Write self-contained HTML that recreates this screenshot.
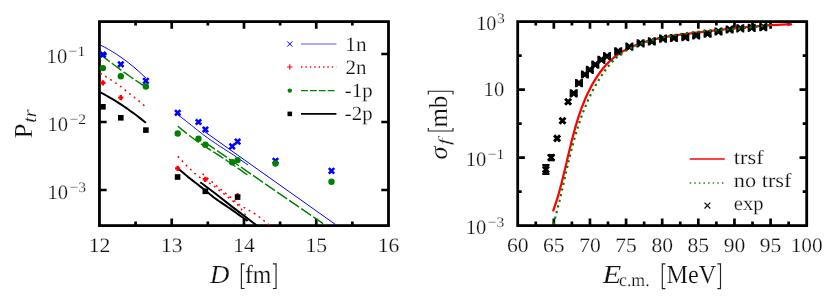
<!DOCTYPE html>
<html><head><meta charset="utf-8"><title>plots</title>
<style>
html,body{margin:0;padding:0;background:#fff;}
body{width:830px;height:297px;overflow:hidden;}
svg{display:block;}
text{font-family:"Liberation Serif",serif;fill:#111;stroke:#fff;stroke-width:0.2px;text-rendering:geometricPrecision;}
</style></head><body>
<svg width="830" height="297" viewBox="0 0 830 297">
<defs><clipPath id="c1"><rect x="99.45" y="21.6" width="289.05" height="204.0"/></clipPath></defs>
<rect width="830" height="297" fill="#fff"/>
<g opacity="0.999">
<rect x="99.45" y="21.6" width="289.05" height="204.0" fill="none" stroke="#000" stroke-width="2.8"/>
<path d="M135.58,225.6v-4.0M135.58,21.6v4.0" stroke="#000" stroke-width="2.7" fill="none"/>
<path d="M171.71,225.6v-7.2M171.71,21.6v7.2" stroke="#000" stroke-width="2.7" fill="none"/>
<path d="M207.84,225.6v-4.0M207.84,21.6v4.0" stroke="#000" stroke-width="2.7" fill="none"/>
<path d="M243.98,225.6v-7.2M243.98,21.6v7.2" stroke="#000" stroke-width="2.7" fill="none"/>
<path d="M280.11,225.6v-4.0M280.11,21.6v4.0" stroke="#000" stroke-width="2.7" fill="none"/>
<path d="M316.24,225.6v-7.2M316.24,21.6v7.2" stroke="#000" stroke-width="2.7" fill="none"/>
<path d="M352.37,225.6v-4.0M352.37,21.6v4.0" stroke="#000" stroke-width="2.7" fill="none"/>
<path d="M99.45,54.00h7.2M388.5,54.00h-7.2" stroke="#000" stroke-width="2.7" fill="none"/>
<path d="M99.45,122.00h7.2M388.5,122.00h-7.2" stroke="#000" stroke-width="2.7" fill="none"/>
<path d="M99.45,190.00h7.2M388.5,190.00h-7.2" stroke="#000" stroke-width="2.7" fill="none"/>
<g clip-path="url(#c1)">
<polyline points="100.3,45.0 102.3,46.0 104.3,47.0 106.2,48.1 108.2,49.2 110.2,50.3 112.2,51.5 114.2,52.7 116.2,54.0 118.1,55.3 120.1,56.7 122.1,58.1 124.1,59.5 126.1,61.0 128.1,62.5 130.0,64.0 132.0,65.6 134.0,67.3 136.0,69.0 138.0,70.7 140.0,72.5 141.9,74.3 143.9,76.1 145.9,78.0" stroke="#0000ff" stroke-width="1" fill="none"/>
<polyline points="177.8,114.6 178.8,115.4 180.0,116.4 181.6,117.6 183.3,118.9 185.1,120.3 186.8,121.7 188.5,123.0 190.0,124.2 191.4,125.3 192.7,126.3 193.9,127.3 195.1,128.3 196.3,129.3 197.6,130.3 198.8,131.2 200.0,132.2 201.2,133.1 202.5,134.1 203.7,135.0 204.9,135.9 206.1,136.8 207.4,137.7 208.7,138.7 210.0,139.6 211.4,140.6 212.8,141.5 214.3,142.5 215.8,143.5 217.3,144.5 218.9,145.6 220.4,146.6 222.0,147.6 223.6,148.6 225.2,149.7 226.8,150.7 228.4,151.7 230.1,152.8 231.7,153.8 233.4,154.9 235.0,156.0 236.7,157.2 238.6,158.4 240.4,159.7 242.3,161.0 244.1,162.3 245.7,163.4 247.0,164.3 248.0,165.0" stroke="#0000ff" stroke-width="1" fill="none"/>
<polyline points="203.0,130.5 336.0,224.9" stroke="#0000ff" stroke-width="1" fill="none"/>
<polyline points="100.3,54.2 102.3,55.8 104.3,57.4 106.2,58.9 108.2,60.5 110.2,62.0 112.2,63.5 114.2,65.0 116.2,66.5 118.1,68.0 120.1,69.4 122.1,70.9 124.1,72.3 126.1,73.7 128.1,75.1 130.0,76.5 132.0,77.9 134.0,79.2 136.0,80.5 138.0,81.9 140.0,83.2 141.9,84.5 143.9,85.7 145.9,87.0" stroke="#008000" stroke-width="1.5" fill="none" stroke-dasharray="12 2.6"/>
<polyline points="177.8,126.2 178.8,127.0 180.0,128.0 181.6,129.3 183.3,130.7 185.1,132.1 186.8,133.5 188.5,134.8 190.0,136.0 191.4,137.0 192.7,138.0 194.0,139.0 195.2,139.8 196.4,140.7 197.6,141.6 198.8,142.4 200.0,143.2 201.1,144.0 202.1,144.6 203.1,145.3 204.0,145.9 205.1,146.5 206.2,147.2 207.4,148.1 208.9,149.0 210.6,150.1 212.3,151.2 214.2,152.4 216.2,153.7 218.4,155.0 220.6,156.4 223.0,158.0 225.4,159.6 228.2,161.5 231.3,163.6 234.7,166.0 238.1,168.4 241.4,170.7 244.4,172.8 246.9,174.5 248.8,175.8" stroke="#008000" stroke-width="1.5" fill="none" stroke-dasharray="12 2.6"/>
<polyline points="205.0,142.4 326.0,225.6" stroke="#008000" stroke-width="1.5" fill="none" stroke-dasharray="12 2.6"/>
<polyline points="100.3,73.0 100.9,73.4 101.7,73.9 102.7,74.5 103.8,75.2 104.9,76.0 106.1,76.8 107.3,77.5 108.5,78.3 109.7,79.1 110.9,79.8 112.1,80.6 113.4,81.4 114.7,82.3 115.9,83.1 117.2,83.9 118.4,84.8 119.6,85.7 120.7,86.5 121.9,87.4 123.0,88.3 124.2,89.3 125.3,90.2 126.5,91.1 127.6,92.0 128.8,92.9 129.9,93.8 131.1,94.7 132.2,95.6 133.4,96.5 134.5,97.5 135.7,98.4 136.8,99.3 138.0,100.3 139.2,101.3 140.5,102.4 141.8,103.5 143.0,104.5 144.0,105.4 144.9,106.2 145.6,106.8" stroke="#ff0000" stroke-width="1.5" fill="none" stroke-dasharray="1.9 4.0"/>
<polyline points="177.8,156.3 178.7,157.2 179.9,158.5 181.3,160.0 182.8,161.7 184.4,163.4 186.1,165.1 187.7,166.7 189.2,168.2 190.6,169.5 192.0,170.8 193.4,172.1 194.8,173.4 196.2,174.6 197.6,175.7 198.9,176.8 200.3,177.8 201.7,178.7 203.1,179.6 204.5,180.4 205.9,181.1 207.2,181.9 208.6,182.6 209.8,183.3 211.0,184.0 212.1,184.7 213.1,185.4 214.0,186.1 214.9,186.8 215.7,187.5 216.6,188.2 217.6,189.0 218.6,189.8 219.7,190.7 220.9,191.6 222.1,192.5 223.4,193.5 224.6,194.5 225.9,195.5 227.1,196.4 228.2,197.3 229.3,198.2 230.4,199.1 231.6,199.9 232.7,200.8 233.7,201.6 234.7,202.4 235.6,203.1 236.4,203.8 237.1,204.4 237.7,204.9 238.2,205.4 238.7,205.8 239.1,206.3 239.5,206.7 239.9,207.2 240.3,207.7 240.7,208.3 241.2,208.9 241.6,209.5 242.0,210.2 242.5,210.8 242.9,211.5 243.3,212.1 243.7,212.7 244.1,213.3 244.6,213.9 245.1,214.6 245.6,215.2 246.0,215.8 246.4,216.3 246.7,216.8 247.0,217.1" stroke="#ff0000" stroke-width="1.5" fill="none" stroke-dasharray="1.9 4.0"/>
<polyline points="202.5,173.8 203.2,174.4 204.0,175.1 205.1,176.0 206.3,177.0 207.5,178.0 208.7,179.1 209.9,180.1 211.0,181.0 212.0,181.8 212.9,182.7 213.8,183.5 214.7,184.3 215.6,185.1 216.6,185.9 217.6,186.7 218.6,187.6 219.7,188.5 220.9,189.4 222.0,190.4 223.3,191.3 224.5,192.3 225.7,193.3 227.0,194.3 228.2,195.3 229.4,196.3 230.7,197.4 231.9,198.5 233.1,199.7 234.4,200.8 235.6,201.8 236.9,202.8 238.1,203.8 239.3,204.7 240.6,205.5 241.8,206.3 243.1,207.0 244.3,207.7 245.6,208.4 246.8,209.2 248.1,209.9 249.3,210.6 250.6,211.3 251.8,212.0 253.0,212.7 254.2,213.5 255.5,214.2 256.8,215.1 258.1,216.0 259.5,217.1 261.1,218.3 262.8,219.6 264.4,221.0 266.0,222.3 267.5,223.5 268.8,224.6 269.8,225.4 270.5,226.0 271.1,226.4 271.4,226.6 271.6,226.8 271.8,226.9 271.8,226.9 271.9,226.9 272.0,227.0" stroke="#ff0000" stroke-width="1.5" fill="none" stroke-dasharray="1.9 4.0"/>
<polyline points="100.3,92.3 102.3,93.3 104.3,94.4 106.2,95.5 108.2,96.6 110.2,97.8 112.2,98.9 114.2,100.1 116.2,101.4 118.1,102.6 120.1,103.9 122.1,105.2 124.1,106.5 126.1,107.9 128.1,109.3 130.0,110.7 132.0,112.1 134.0,113.5 136.0,115.0 138.0,116.5 140.0,118.1 141.9,119.6 143.9,121.2 145.9,122.8" stroke="#000" stroke-width="2" fill="none"/>
<polyline points="177.7,168.2 178.6,169.0 179.8,170.0 181.3,171.2 182.9,172.6 184.6,174.1 186.4,175.6 188.2,177.1 190.0,178.5 191.8,179.9 193.7,181.4 195.8,183.0 197.8,184.5 199.8,186.1 201.8,187.6 203.6,189.0 205.3,190.3 206.7,191.5 207.9,192.5 209.0,193.4 210.0,194.3 211.1,195.2 212.2,196.1 213.5,197.2 215.0,198.3 216.8,199.6 218.8,201.0 220.9,202.4 223.1,203.9 225.4,205.4 227.7,207.0 229.9,208.4 232.0,209.9 234.1,211.4 236.4,213.0 238.6,214.6 240.9,216.2 243.0,217.7 244.8,219.0 246.4,220.1 247.6,221.0" stroke="#000" stroke-width="2" fill="none"/>
<polyline points="200.3,182.3 215.0,193.3 232.0,206.6 257.5,226.0" stroke="#000" stroke-width="2" fill="none"/>
</g>
<path d="M100.2,52.0L105.6,57.4M100.2,57.4L105.6,52.0" stroke="#0000ff" stroke-width="2.6" fill="none"/>
<path d="M118.1,61.6L123.5,67.0M118.1,67.0L123.5,61.6" stroke="#0000ff" stroke-width="2.6" fill="none"/>
<path d="M143.2,78.2L148.6,83.6M143.2,83.6L148.6,78.2" stroke="#0000ff" stroke-width="2.6" fill="none"/>
<path d="M175.0,110.1L180.4,115.5M175.0,115.5L180.4,110.1" stroke="#0000ff" stroke-width="2.6" fill="none"/>
<path d="M195.8,119.3L201.2,124.7M195.8,124.7L201.2,119.3" stroke="#0000ff" stroke-width="2.6" fill="none"/>
<path d="M202.7,126.8L208.1,132.2M202.7,132.2L208.1,126.8" stroke="#0000ff" stroke-width="2.6" fill="none"/>
<path d="M229.5,143.7L234.9,149.1M229.5,149.1L234.9,143.7" stroke="#0000ff" stroke-width="2.6" fill="none"/>
<path d="M234.9,138.9L240.3,144.3M234.9,144.3L240.3,138.9" stroke="#0000ff" stroke-width="2.6" fill="none"/>
<path d="M272.8,158.2L278.2,163.6M272.8,163.6L278.2,158.2" stroke="#0000ff" stroke-width="2.6" fill="none"/>
<path d="M328.8,168.2L334.2,173.6M328.8,173.6L334.2,168.2" stroke="#0000ff" stroke-width="2.6" fill="none"/>
<path d="M100.3,82.8h5.2M102.9,80.2v5.2" stroke="#ff0000" stroke-width="2.4" fill="none"/>
<path d="M118.2,97.6h5.2M120.8,95.0v5.2" stroke="#ff0000" stroke-width="2.4" fill="none"/>
<path d="M175.0,168.4h5.2M177.6,165.8v5.2" stroke="#ff0000" stroke-width="2.4" fill="none"/>
<path d="M202.7,179.3h5.2M205.3,176.7v5.2" stroke="#ff0000" stroke-width="2.4" fill="none"/>
<path d="M235.0,195.8h5.2M237.6,193.2v5.2" stroke="#ff0000" stroke-width="2.4" fill="none"/>
<circle cx="102.9" cy="68.1" r="3.2" fill="#008000"/>
<circle cx="120.8" cy="76.2" r="3.2" fill="#008000"/>
<circle cx="145.9" cy="86.5" r="3.2" fill="#008000"/>
<circle cx="177.7" cy="133.5" r="3.2" fill="#008000"/>
<circle cx="198.5" cy="138.7" r="3.2" fill="#008000"/>
<circle cx="205.4" cy="144.8" r="3.2" fill="#008000"/>
<circle cx="232.2" cy="162.2" r="3.2" fill="#008000"/>
<circle cx="237.6" cy="160.1" r="3.2" fill="#008000"/>
<circle cx="275.5" cy="163.5" r="3.2" fill="#008000"/>
<circle cx="331.5" cy="181.8" r="3.2" fill="#008000"/>
<rect x="100.1" y="104.0" width="5.6" height="5.6" fill="#000"/>
<rect x="118.0" y="115.0" width="5.6" height="5.6" fill="#000"/>
<rect x="143.1" y="127.3" width="5.6" height="5.6" fill="#000"/>
<rect x="174.8" y="174.2" width="5.6" height="5.6" fill="#000"/>
<rect x="202.5" y="188.5" width="5.6" height="5.6" fill="#000"/>
<rect x="234.8" y="194.3" width="5.6" height="5.6" fill="#000"/>
<path d="M287.2,41.4L292.4,46.6M287.2,46.6L292.4,41.4" stroke="#0000ff" stroke-width="1.0" fill="none"/>
<path d="M301,44.0H336.4" stroke="#0000ff" stroke-width="1.3" opacity="0.45"/>
<path d="M287.1,67.0h5.4M289.8,64.3v5.4" stroke="#ff0000" stroke-width="1.1" fill="none"/>
<path d="M301,67.0H336.4" stroke="#ff0000" stroke-width="1.5" stroke-dasharray="1.4 3.0"/>
<circle cx="289.8" cy="90.6" r="2.2" fill="#008000"/>
<path d="M301,90.6H336.4" stroke="#008000" stroke-width="1.3" stroke-dasharray="6.9 2"/>
<rect x="287.5" y="111.6" width="4.6" height="4.6" fill="#000"/>
<path d="M301,113.9H336.4" stroke="#000" stroke-width="1.6"/>
<text x="345.3" y="50.5" font-size="20.5" text-anchor="start" textLength="21.2" lengthAdjust="spacingAndGlyphs" >1n</text>
<text x="345.6" y="73.8" font-size="20.5" text-anchor="start" textLength="21.0" lengthAdjust="spacingAndGlyphs" >2n</text>
<text x="344.8" y="97.0" font-size="20" text-anchor="start" textLength="27.8" lengthAdjust="spacingAndGlyphs" >-1p</text>
<text x="344.8" y="120.2" font-size="20" text-anchor="start" textLength="27.8" lengthAdjust="spacingAndGlyphs" >-2p</text>
<text x="99.5" y="251.7" font-size="20.5" text-anchor="middle" textLength="21.6" lengthAdjust="spacingAndGlyphs" >12</text>
<text x="171.7" y="251.7" font-size="20.5" text-anchor="middle" textLength="21.6" lengthAdjust="spacingAndGlyphs" >13</text>
<text x="244.0" y="251.7" font-size="20.5" text-anchor="middle" textLength="21.6" lengthAdjust="spacingAndGlyphs" >14</text>
<text x="316.2" y="251.7" font-size="20.5" text-anchor="middle" textLength="21.6" lengthAdjust="spacingAndGlyphs" >15</text>
<text x="388.5" y="251.7" font-size="20.5" text-anchor="middle" textLength="21.6" lengthAdjust="spacingAndGlyphs" >16</text>
<text x="67.2" y="63" font-size="20.5" text-anchor="end" textLength="20.6" lengthAdjust="spacingAndGlyphs" >10</text>
<text x="85.2" y="56.0" font-size="14.5" text-anchor="end" textLength="16.6" lengthAdjust="spacingAndGlyphs" >−1</text>
<text x="68.0" y="131" font-size="20.5" text-anchor="end" textLength="20.6" lengthAdjust="spacingAndGlyphs" >10</text>
<text x="86.0" y="124.0" font-size="14.5" text-anchor="end" textLength="16.6" lengthAdjust="spacingAndGlyphs" >−2</text>
<text x="68.0" y="199" font-size="20.5" text-anchor="end" textLength="20.6" lengthAdjust="spacingAndGlyphs" >10</text>
<text x="86.0" y="192.0" font-size="14.5" text-anchor="end" textLength="16.6" lengthAdjust="spacingAndGlyphs" >−3</text>
<text x="210.0" y="282.9" font-size="26" font-style="italic" textLength="19.4" lengthAdjust="spacingAndGlyphs">D</text>
<path d="M244.50,263.80H241.40V288.50H244.50" stroke="#222" stroke-width="1.15" fill="none"/>
<path d="M272.95,263.80H276.05V288.50H272.95" stroke="#222" stroke-width="1.15" fill="none"/>
<text x="244.9" y="282.8" font-size="26" text-anchor="start" textLength="26.4" lengthAdjust="spacingAndGlyphs" >fm</text>
<g transform="translate(32.3,138.6) rotate(-90)"><text x="0" y="0" font-size="26" textLength="15" lengthAdjust="spacingAndGlyphs">P</text><text x="15.9" y="3.9" font-size="19" font-style="italic" textLength="13.4" lengthAdjust="spacingAndGlyphs">tr</text></g>
<rect x="517.7" y="21.6" width="289.0" height="204.0" fill="none" stroke="#000" stroke-width="2.8"/>
<path d="M535.76,225.6v-4.0M535.76,21.6v4.0" stroke="#000" stroke-width="2.7" fill="none"/>
<path d="M553.83,225.6v-7.2M553.83,21.6v7.2" stroke="#000" stroke-width="2.7" fill="none"/>
<path d="M571.89,225.6v-4.0M571.89,21.6v4.0" stroke="#000" stroke-width="2.7" fill="none"/>
<path d="M589.95,225.6v-7.2M589.95,21.6v7.2" stroke="#000" stroke-width="2.7" fill="none"/>
<path d="M608.01,225.6v-4.0M608.01,21.6v4.0" stroke="#000" stroke-width="2.7" fill="none"/>
<path d="M626.08,225.6v-7.2M626.08,21.6v7.2" stroke="#000" stroke-width="2.7" fill="none"/>
<path d="M644.14,225.6v-4.0M644.14,21.6v4.0" stroke="#000" stroke-width="2.7" fill="none"/>
<path d="M662.20,225.6v-7.2M662.20,21.6v7.2" stroke="#000" stroke-width="2.7" fill="none"/>
<path d="M680.26,225.6v-4.0M680.26,21.6v4.0" stroke="#000" stroke-width="2.7" fill="none"/>
<path d="M698.33,225.6v-7.2M698.33,21.6v7.2" stroke="#000" stroke-width="2.7" fill="none"/>
<path d="M716.39,225.6v-4.0M716.39,21.6v4.0" stroke="#000" stroke-width="2.7" fill="none"/>
<path d="M734.45,225.6v-7.2M734.45,21.6v7.2" stroke="#000" stroke-width="2.7" fill="none"/>
<path d="M752.51,225.6v-4.0M752.51,21.6v4.0" stroke="#000" stroke-width="2.7" fill="none"/>
<path d="M770.58,225.6v-7.2M770.58,21.6v7.2" stroke="#000" stroke-width="2.7" fill="none"/>
<path d="M788.64,225.6v-4.0M788.64,21.6v4.0" stroke="#000" stroke-width="2.7" fill="none"/>
<path d="M517.7,55.60h4.0M806.7,55.60h-4.0" stroke="#000" stroke-width="2.7" fill="none"/>
<path d="M517.7,89.60h7.2M806.7,89.60h-7.2" stroke="#000" stroke-width="2.7" fill="none"/>
<path d="M517.7,123.60h4.0M806.7,123.60h-4.0" stroke="#000" stroke-width="2.7" fill="none"/>
<path d="M517.7,157.60h7.2M806.7,157.60h-7.2" stroke="#000" stroke-width="2.7" fill="none"/>
<path d="M517.7,191.60h4.0M806.7,191.60h-4.0" stroke="#000" stroke-width="2.7" fill="none"/>
<polyline points="553.0,211.3 554.7,206.5 556.3,201.7 557.8,196.9 559.2,192.0 560.5,187.1 561.8,182.2 563.0,177.3 564.2,172.3 565.4,167.3 566.6,162.4 567.7,157.4 568.9,152.4 570.1,147.5 571.3,142.5 572.6,137.6 573.9,132.6 575.2,127.7 576.7,122.8 578.2,117.9 579.8,113.1 581.5,108.2 583.4,103.5 585.3,98.7 587.4,94.0 589.7,89.4 592.1,84.8 594.7,80.4 597.4,76.1 600.3,72.0 603.4,68.0 606.7,64.3 610.2,60.8 613.9,57.5 617.8,54.5 622.0,51.8 626.3,49.4 630.8,47.2 635.4,45.2 640.2,43.4 645.0,41.9 649.9,40.5 654.9,39.2 660.0,38.1 665.0,37.1 670.2,36.2 675.3,35.4 680.4,34.7 685.6,34.0 690.7,33.4 695.9,32.7 701.0,32.1 706.1,31.5 711.1,30.9 716.1,30.3 721.2,29.8 726.2,29.2 731.2,28.7 736.2,28.1 741.2,27.6 746.2,27.2 751.2,26.7 756.2,26.3 761.3,25.9 766.4,25.5 771.4,25.2 776.6,24.9 781.7,24.7 786.9,24.4 792.1,24.3" stroke="#ff0000" stroke-width="2.25" fill="none" stroke-linejoin="round"/>
<path d="M542.9,166.5L548.9,172.5M542.9,172.5L548.9,166.5" stroke="#000" stroke-width="3.0" fill="none"/>
<path d="M548.2,154.5L554.2,160.5M548.2,160.5L554.2,154.5" stroke="#000" stroke-width="3.0" fill="none"/>
<path d="M554.1,135.4L560.1,141.4M554.1,141.4L560.1,135.4" stroke="#000" stroke-width="3.0" fill="none"/>
<path d="M559.5,117.7L565.5,123.7M559.5,123.7L565.5,117.7" stroke="#000" stroke-width="3.0" fill="none"/>
<path d="M565.1,98.8L571.1,104.8M565.1,104.8L571.1,98.8" stroke="#000" stroke-width="3.0" fill="none"/>
<path d="M570.7,90.4L576.7,96.4M570.7,96.4L576.7,90.4" stroke="#000" stroke-width="3.0" fill="none"/>
<path d="M570.6,93.4h6.2M570.6,89.3v8.2M576.8,89.3v8.2" stroke="#000" stroke-width="1.8" fill="none"/>
<path d="M576.0,80.1L582.0,86.1M576.0,86.1L582.0,80.1" stroke="#000" stroke-width="3.0" fill="none"/>
<path d="M575.9,83.1h6.2M575.9,79.0v8.2M582.1,79.0v8.2" stroke="#000" stroke-width="1.8" fill="none"/>
<path d="M581.9,71.5L587.9,77.5M581.9,77.5L587.9,71.5" stroke="#000" stroke-width="3.0" fill="none"/>
<path d="M581.8,74.5h6.2M581.8,70.4v8.2M588.0,70.4v8.2" stroke="#000" stroke-width="1.8" fill="none"/>
<path d="M586.8,66.8L592.8,72.8M586.8,72.8L592.8,66.8" stroke="#000" stroke-width="3.0" fill="none"/>
<path d="M586.7,69.8h6.2M586.7,65.7v8.2M592.9,65.7v8.2" stroke="#000" stroke-width="1.8" fill="none"/>
<path d="M592.3,61.6L598.3,67.6M592.3,67.6L598.3,61.6" stroke="#000" stroke-width="3.0" fill="none"/>
<path d="M592.2,64.6h6.2M592.2,60.5v8.2M598.4,60.5v8.2" stroke="#000" stroke-width="1.8" fill="none"/>
<path d="M598.4,56.8L604.4,62.8M598.4,62.8L604.4,56.8" stroke="#000" stroke-width="3.0" fill="none"/>
<path d="M598.3,59.8h6.2M598.3,55.7v8.2M604.5,55.7v8.2" stroke="#000" stroke-width="1.8" fill="none"/>
<path d="M604.0,53.2L610.0,59.2M604.0,59.2L610.0,53.2" stroke="#000" stroke-width="3.0" fill="none"/>
<path d="M603.9,56.2h6.2M603.9,52.1v8.2M610.1,52.1v8.2" stroke="#000" stroke-width="1.8" fill="none"/>
<path d="M615.2,48.4L621.2,54.4M615.2,54.4L621.2,48.4" stroke="#000" stroke-width="3.0" fill="none"/>
<path d="M615.1,51.4h6.2M615.1,47.3v8.2M621.3,47.3v8.2" stroke="#000" stroke-width="1.8" fill="none"/>
<path d="M626.4,43.7L632.4,49.7M626.4,49.7L632.4,43.7" stroke="#000" stroke-width="3.0" fill="none"/>
<path d="M626.3,46.7h6.2M626.3,42.6v8.2M632.5,42.6v8.2" stroke="#000" stroke-width="1.8" fill="none"/>
<path d="M637.6,40.3L643.6,46.3M637.6,46.3L643.6,40.3" stroke="#000" stroke-width="3.0" fill="none"/>
<path d="M637.5,43.3h6.2M637.5,39.2v8.2M643.7,39.2v8.2" stroke="#000" stroke-width="1.8" fill="none"/>
<path d="M648.8,38.4L654.8,44.4M648.8,44.4L654.8,38.4" stroke="#000" stroke-width="3.0" fill="none"/>
<path d="M648.7,41.4h6.2M648.7,37.3v8.2M654.9,37.3v8.2" stroke="#000" stroke-width="1.8" fill="none"/>
<path d="M660.0,35.6L666.0,41.6M660.0,41.6L666.0,35.6" stroke="#000" stroke-width="3.0" fill="none"/>
<path d="M659.9,38.6h6.2M659.9,34.5v8.2M666.1,34.5v8.2" stroke="#000" stroke-width="1.8" fill="none"/>
<path d="M670.9,35.0L676.9,41.0M670.9,41.0L676.9,35.0" stroke="#000" stroke-width="3.0" fill="none"/>
<path d="M670.8,38.0h6.2M670.8,33.9v8.2M677.0,33.9v8.2" stroke="#000" stroke-width="1.8" fill="none"/>
<path d="M682.3,34.2L688.3,40.2M682.3,40.2L688.3,34.2" stroke="#000" stroke-width="3.0" fill="none"/>
<path d="M682.2,37.2h6.2M682.2,33.1v8.2M688.4,33.1v8.2" stroke="#000" stroke-width="1.8" fill="none"/>
<path d="M693.2,32.5L699.2,38.5M693.2,38.5L699.2,32.5" stroke="#000" stroke-width="3.0" fill="none"/>
<path d="M693.1,35.5h6.2M693.1,31.4v8.2M699.3,31.4v8.2" stroke="#000" stroke-width="1.8" fill="none"/>
<path d="M704.6,30.7L710.6,36.7M704.6,36.7L710.6,30.7" stroke="#000" stroke-width="3.0" fill="none"/>
<path d="M704.5,33.7h6.2M704.5,29.6v8.2M710.7,29.6v8.2" stroke="#000" stroke-width="1.8" fill="none"/>
<path d="M715.5,28.5L721.5,34.5M715.5,34.5L721.5,28.5" stroke="#000" stroke-width="3.0" fill="none"/>
<path d="M715.4,31.5h6.2M715.4,27.4v8.2M721.6,27.4v8.2" stroke="#000" stroke-width="1.8" fill="none"/>
<path d="M726.6,26.5L732.6,32.5M726.6,32.5L732.6,26.5" stroke="#000" stroke-width="3.0" fill="none"/>
<path d="M726.5,29.5h6.2M726.5,25.4v8.2M732.7,25.4v8.2" stroke="#000" stroke-width="1.8" fill="none"/>
<path d="M737.3,25.3L743.3,31.3M737.3,31.3L743.3,25.3" stroke="#000" stroke-width="3.0" fill="none"/>
<path d="M737.2,28.3h6.2M737.2,24.2v8.2M743.4,24.2v8.2" stroke="#000" stroke-width="1.8" fill="none"/>
<path d="M748.7,24.8L754.7,30.8M748.7,30.8L754.7,24.8" stroke="#000" stroke-width="3.0" fill="none"/>
<path d="M748.6,27.8h6.2M748.6,23.7v8.2M754.8,23.7v8.2" stroke="#000" stroke-width="1.8" fill="none"/>
<path d="M760.3,24.1L766.3,30.1M760.3,30.1L766.3,24.1" stroke="#000" stroke-width="3.0" fill="none"/>
<path d="M760.2,27.1h6.2M760.2,23.0v8.2M766.4,23.0v8.2" stroke="#000" stroke-width="1.8" fill="none"/>
<path d="M545.9,165.2V173.8M542.3,165.2h7.2M542.3,173.8h7.2" stroke="#000" stroke-width="2.2" fill="none"/>
<path d="M551.2,155.0V160.2M547.6,155.0h7.2M547.6,160.2h7.2" stroke="#000" stroke-width="2.2" fill="none"/>
<polyline points="553.4,224.3 554.7,219.7 555.9,215.1 557.1,210.5 558.3,205.8 559.5,201.1 560.6,196.3 561.7,191.5 562.8,186.7 563.9,181.9 565.0,177.0 566.1,172.2 567.2,167.3 568.4,162.4 569.5,157.5 570.7,152.7 572.0,147.8 573.3,143.0 574.6,138.2 576.0,133.4 577.4,128.6 579.0,123.8 580.6,119.1 582.2,114.5 584.0,109.8 585.9,105.3 587.8,100.8 589.9,96.3 592.0,91.9 594.3,87.6 596.7,83.3 599.3,79.1 601.9,75.0 604.7,71.0 607.7,67.1 610.8,63.3 614.2,59.7 617.7,56.4 621.6,53.5 625.6,50.9 629.9,48.5 634.3,46.4 638.8,44.6 643.4,42.9 648.1,41.3 652.8,39.9 657.5,38.6 662.3,37.4 667.1,36.4 672.0,35.4 676.9,34.6 681.8,33.8 686.7,33.1 691.7,32.5 696.7,32.0 701.7,31.5 706.7,31.0 711.7,30.6 716.7,30.2 721.6,29.8 726.6,29.4 731.6,29.1 736.5,28.7 741.5,28.3 746.3,27.8 751.2,27.4 756.1,26.9 760.8,26.3 765.6,25.7 770.3,25.0" stroke="#008000" stroke-width="2.2" fill="none" stroke-dasharray="2.2 3.6"/>
<text x="517.7" y="251.7" font-size="20.5" text-anchor="middle" textLength="21.6" lengthAdjust="spacingAndGlyphs" >60</text>
<text x="553.8" y="251.7" font-size="20.5" text-anchor="middle" textLength="21.6" lengthAdjust="spacingAndGlyphs" >65</text>
<text x="590.0" y="251.7" font-size="20.5" text-anchor="middle" textLength="21.6" lengthAdjust="spacingAndGlyphs" >70</text>
<text x="626.1" y="251.7" font-size="20.5" text-anchor="middle" textLength="21.6" lengthAdjust="spacingAndGlyphs" >75</text>
<text x="662.2" y="251.7" font-size="20.5" text-anchor="middle" textLength="21.6" lengthAdjust="spacingAndGlyphs" >80</text>
<text x="698.3" y="251.7" font-size="20.5" text-anchor="middle" textLength="21.6" lengthAdjust="spacingAndGlyphs" >85</text>
<text x="734.5" y="251.7" font-size="20.5" text-anchor="middle" textLength="21.6" lengthAdjust="spacingAndGlyphs" >90</text>
<text x="770.6" y="251.7" font-size="20.5" text-anchor="middle" textLength="21.6" lengthAdjust="spacingAndGlyphs" >95</text>
<text x="806.7" y="251.7" font-size="20.5" text-anchor="middle" textLength="32" lengthAdjust="spacingAndGlyphs" >100</text>
<text x="496.4" y="30.2" font-size="20.5" text-anchor="end" textLength="20.2" lengthAdjust="spacingAndGlyphs" >10</text>
<text x="504.7" y="23.4" font-size="14.5" text-anchor="end" textLength="7.8" lengthAdjust="spacingAndGlyphs" >3</text>
<text x="504.2" y="96.4" font-size="20.5" text-anchor="end" textLength="20.6" lengthAdjust="spacingAndGlyphs" >10</text>
<text x="486.3" y="166.2" font-size="20.5" text-anchor="end" textLength="20.6" lengthAdjust="spacingAndGlyphs" >10</text>
<text x="504.3" y="159.2" font-size="14.5" text-anchor="end" textLength="16.6" lengthAdjust="spacingAndGlyphs" >−1</text>
<text x="486.3" y="234.3" font-size="20.5" text-anchor="end" textLength="20.6" lengthAdjust="spacingAndGlyphs" >10</text>
<text x="504.3" y="227.3" font-size="14.5" text-anchor="end" textLength="16.6" lengthAdjust="spacingAndGlyphs" >−3</text>
<path d="M689.7,158.9H724.8" stroke="#ff0000" stroke-width="1.5"/>
<path d="M689.7,182.9H724.8" stroke="#008000" stroke-width="1.5" stroke-dasharray="1.5 3.1" opacity="0.9"/>
<path d="M704.5,202.7L710.3,208.5M704.5,208.5L710.3,202.7" stroke="#000" stroke-width="1.1" fill="none"/>
<text x="733.8" y="163.8" font-size="20" text-anchor="start" textLength="29.8" lengthAdjust="spacingAndGlyphs" >trsf</text>
<text x="733.8" y="187.3" font-size="20" text-anchor="start" textLength="57.7" lengthAdjust="spacingAndGlyphs" >no trsf</text>
<text x="733.8" y="210.3" font-size="20" text-anchor="start" textLength="29.8" lengthAdjust="spacingAndGlyphs" >exp</text>
<text x="602.5" y="283.0" font-size="26" font-style="italic" textLength="18.8" lengthAdjust="spacingAndGlyphs">E</text>
<text x="619.0" y="286.0" font-size="18.5" text-anchor="start" textLength="30.6" lengthAdjust="spacingAndGlyphs" >c.m.</text>
<path d="M665.40,263.90H662.30V288.60H665.40" stroke="#222" stroke-width="1.15" fill="none"/>
<path d="M717.40,263.90H720.50V288.60H717.40" stroke="#222" stroke-width="1.15" fill="none"/>
<text x="666.6" y="282.9" font-size="26" text-anchor="start" textLength="49.6" lengthAdjust="spacingAndGlyphs" >MeV</text>
<g transform="translate(446.7,158.2) rotate(-90)"><text x="-1.4" y="0" font-size="26" font-style="italic" textLength="13" lengthAdjust="spacingAndGlyphs">σ</text><text x="12.9" y="3.4" font-size="17" font-style="italic" textLength="6.8" lengthAdjust="spacingAndGlyphs">f</text><text x="30.7" y="0" font-size="26" textLength="31.8" lengthAdjust="spacingAndGlyphs">mb</text><path d="M30.30,-18.40H27.20V6.30H30.30" stroke="#222" stroke-width="1.15" fill="none"/><path d="M63.80,-18.40H66.90V6.30H63.80" stroke="#222" stroke-width="1.15" fill="none"/></g>
</g>
</svg>
</body></html>
